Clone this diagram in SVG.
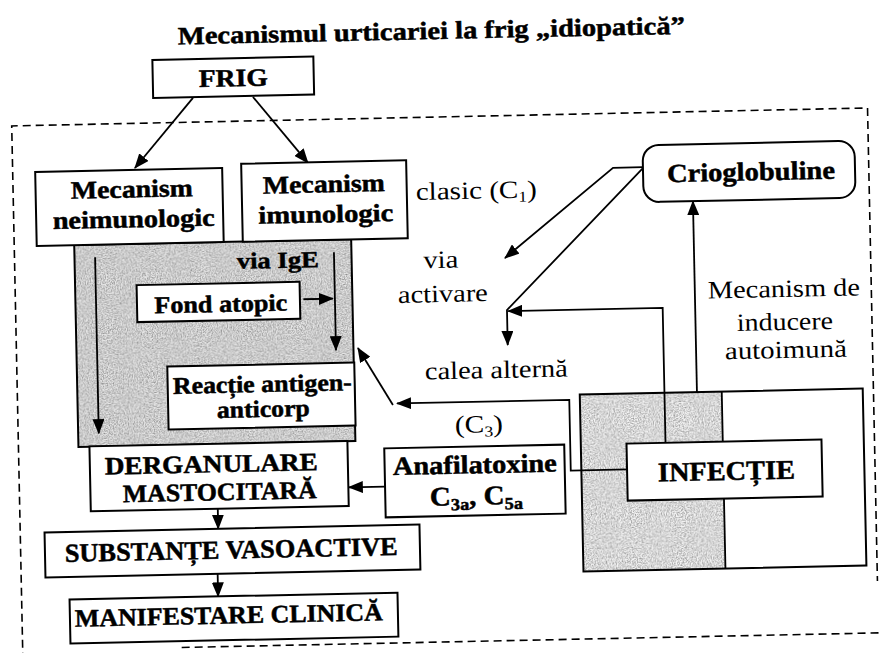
<svg xmlns="http://www.w3.org/2000/svg" width="879" height="653" viewBox="0 0 879 653">
<defs>
<style>
.box{fill:#fff;stroke:#000;stroke-width:2}
.ln{fill:none;stroke:#000;stroke-width:1.8}
.arr{marker-end:url(#ah)}
.dash{fill:none;stroke:#000;stroke-width:1.6;stroke-dasharray:8 5}
text{font-family:"Liberation Serif","Times New Roman",serif;fill:#000}
.b{font-weight:bold;stroke:#000;stroke-width:0.5}
.c{text-anchor:middle}
</style>
<marker id="ah" markerUnits="userSpaceOnUse" markerWidth="16" markerHeight="12" refX="14" refY="6" orient="auto">
<path d="M0,0 L15,6 L0,12 z" fill="#000"/>
</marker>
<filter id="grain" x="0" y="0" width="1" height="1" color-interpolation-filters="sRGB">
<feTurbulence type="fractalNoise" baseFrequency="0.8" numOctaves="2" seed="4" result="n"/>
<feColorMatrix in="n" type="matrix" values="0 0 0 0 0.3  0 0 0 0 0.3  0 0 0 0 0.3  1.2 0 0 0 -0.42" result="d"/>
<feComposite in="d" in2="SourceGraphic" operator="in" result="dc"/>
<feMerge><feMergeNode in="SourceGraphic"/><feMergeNode in="dc"/></feMerge>
</filter>
</defs>
<rect width="879" height="653" fill="#fff"/>
<g transform="rotate(-1.2 440 326)">
<text id="title" class="b c" x="437.5" y="39" font-size="25" textLength="507" lengthAdjust="spacingAndGlyphs">Mecanismul urticariei la frig „idiopatică”</text>

<path class="dash" d="M16,665 V117 H872 V590 M175,642 H885"/>

<g id="grey-zone">
<rect x="76" y="237.3" width="277" height="202" fill="#e6e6e6" filter="url(#grain)"/>
<rect x="76" y="237.3" width="277" height="202" fill="none" stroke="#000" stroke-width="2"/>
<text class="b" x="279.2" y="264.6" font-size="23" text-anchor="middle" textLength="82" lengthAdjust="spacingAndGlyphs">via IgE</text>
</g>

<g id="infectie-zone">
<rect x="578.3" y="397.4" width="142" height="177" fill="#f4f4f4" filter="url(#grain)"/>
<rect x="578.3" y="397.4" width="283" height="177" fill="none" stroke="#000" stroke-width="2"/>
<line x1="720.3" y1="397.4" x2="720.3" y2="574.4" stroke="#000" stroke-width="1.8"/>
</g>

<g id="connectors">
<line class="ln arr" x1="197.8" y1="92.8" x2="138.3" y2="161.6"/>
<line class="ln arr" x1="257.8" y1="93.1" x2="311.4" y2="160.2"/>
<line class="ln arr" x1="96.6" y1="250" x2="96.6" y2="426"/>
<line class="ln arr" x1="335.5" y1="250" x2="335.5" y2="348"/>
<line class="ln arr" x1="304" y1="296.4" x2="333.5" y2="296.4"/>
<line class="ln arr" x1="391.3" y1="404" x2="357.5" y2="346.3"/>
<polyline class="ln arr" points="624,473.3 567.7,473.3 567.7,402.5 395.4,402.5"/>
<line class="ln arr" x1="381.7" y1="485.4" x2="345.5" y2="485.4"/>
<line class="ln arr" x1="214" y1="504" x2="214" y2="524"/>
<line class="ln arr" x1="212.5" y1="569" x2="212.5" y2="591.7"/>
<polyline class="ln arr" points="646.2,171.5 616.3,171.5 506.4,259.4"/>
<polyline class="ln arr" points="646.2,172.5 507.3,311.4 507.3,346.4"/>
<polyline class="ln arr" points="663,447.5 663,312.5 508.5,312.5"/>
<line class="ln arr" x1="695.5" y1="397.4" x2="695.5" y2="206.5"/>
</g>

<g id="frig">
<rect class="box" x="158" y="54" width="161" height="38"/>
<text class="b c" x="238.5" y="82" font-size="25" textLength="69" lengthAdjust="spacingAndGlyphs">FRIG</text>
</g>

<g id="mecanism-neimunologic">
<rect class="box" x="38.5" y="163.5" width="187" height="74"/>
<text class="b c" x="134.8" y="191" font-size="25" textLength="122" lengthAdjust="spacingAndGlyphs">Mecanism</text>
<text class="b c" x="136" y="221" font-size="25" textLength="162" lengthAdjust="spacingAndGlyphs">neimunologic</text>
</g>

<g id="mecanism-imunologic">
<rect class="box" x="244.6" y="159.6" width="165" height="78"/>
<text class="b c" x="326.8" y="190" font-size="25" textLength="122" lengthAdjust="spacingAndGlyphs">Mecanism</text>
<text class="b c" x="328.2" y="220" font-size="25" textLength="135" lengthAdjust="spacingAndGlyphs">imunologic</text>
</g>

<g id="fond-atopic">
<rect class="box" x="137.5" y="278.8" width="163" height="37"/>
<text class="b c" x="221.3" y="307.4" font-size="24" textLength="133" lengthAdjust="spacingAndGlyphs">Fond atopic</text>
</g>

<g id="reactie">
<rect class="box" x="166.5" y="360.8" width="187" height="63"/>
<text class="b c" x="261.1" y="388.3" font-size="24" textLength="179" lengthAdjust="spacingAndGlyphs">Reacție antigen-</text>
<text class="b c" x="261.6" y="413.3" font-size="24" textLength="93" lengthAdjust="spacingAndGlyphs">anticorp</text>
</g>

<g id="derganulare">
<rect class="box" x="87" y="439" width="258" height="65"/>
<text class="b c" x="208.4" y="467.5" font-size="25" textLength="213" lengthAdjust="spacingAndGlyphs">DERGANULARE</text>
<text class="b c" x="216.3" y="495.6" font-size="25" textLength="194" lengthAdjust="spacingAndGlyphs">MASTOCITARĂ</text>
</g>

<g id="anafilatoxine">
<rect class="box" x="381.7" y="447.2" width="180" height="69"/>
<text class="b c" x="471.9" y="474" font-size="26" textLength="164" lengthAdjust="spacingAndGlyphs">Anafilatoxine</text>
<text class="b c" x="472.7" y="505.5" font-size="27" textLength="93" lengthAdjust="spacingAndGlyphs">C<tspan dy="5" font-size="17">3a</tspan><tspan dy="-5">, C</tspan><tspan dy="5" font-size="17">5a</tspan></text>
</g>

<g id="substante">
<rect class="box" x="40.3" y="524.1" width="375" height="45"/>
<text class="b c" x="226.6" y="554" font-size="26" textLength="333" lengthAdjust="spacingAndGlyphs">SUBSTANȚE VASOACTIVE</text>
</g>

<g id="manifestare">
<rect class="box" x="63.9" y="591.7" width="328" height="44"/>
<text class="b c" x="222.8" y="619" font-size="25" textLength="308" lengthAdjust="spacingAndGlyphs">MANIFESTARE CLINICĂ</text>
</g>

<g id="infectie">
<rect class="box" x="624" y="447.5" width="195" height="57"/>
<text class="b c" x="723.3" y="486" font-size="27" textLength="137" lengthAdjust="spacingAndGlyphs">INFECȚIE</text>
</g>

<g id="crioglobuline">
<rect class="box" x="646.2" y="149.5" width="212" height="57" rx="16"/>
<text class="b c" x="754.1" y="187" font-size="26" textLength="168" lengthAdjust="spacingAndGlyphs">Crioglobuline</text>
</g>

<g id="labels">
<text x="418.6" y="199.5" font-size="25" textLength="121" lengthAdjust="spacingAndGlyphs">clasic (C<tspan dy="4" font-size="15">1</tspan><tspan dy="-4">)</tspan></text>
<text class="c" x="442.2" y="268" font-size="25" textLength="35" lengthAdjust="spacingAndGlyphs">via</text>
<text class="c" x="443.5" y="302.1" font-size="25" textLength="90" lengthAdjust="spacingAndGlyphs">activare</text>
<text class="c" x="495.4" y="379.2" font-size="25" textLength="143" lengthAdjust="spacingAndGlyphs">calea alternă</text>
<text x="452.8" y="433.3" font-size="25" textLength="48" lengthAdjust="spacingAndGlyphs">(C<tspan dy="4" font-size="15">3</tspan><tspan dy="-4">)</tspan></text>
<text class="c" x="784.6" y="304.2" font-size="25" textLength="152" lengthAdjust="spacingAndGlyphs">Mecanism de</text>
<text class="c" x="784.9" y="337.2" font-size="25" textLength="96" lengthAdjust="spacingAndGlyphs">inducere</text>
<text class="c" x="785.3" y="365.3" font-size="25" textLength="122" lengthAdjust="spacingAndGlyphs">autoimună</text>
</g>
</g>
</svg>
